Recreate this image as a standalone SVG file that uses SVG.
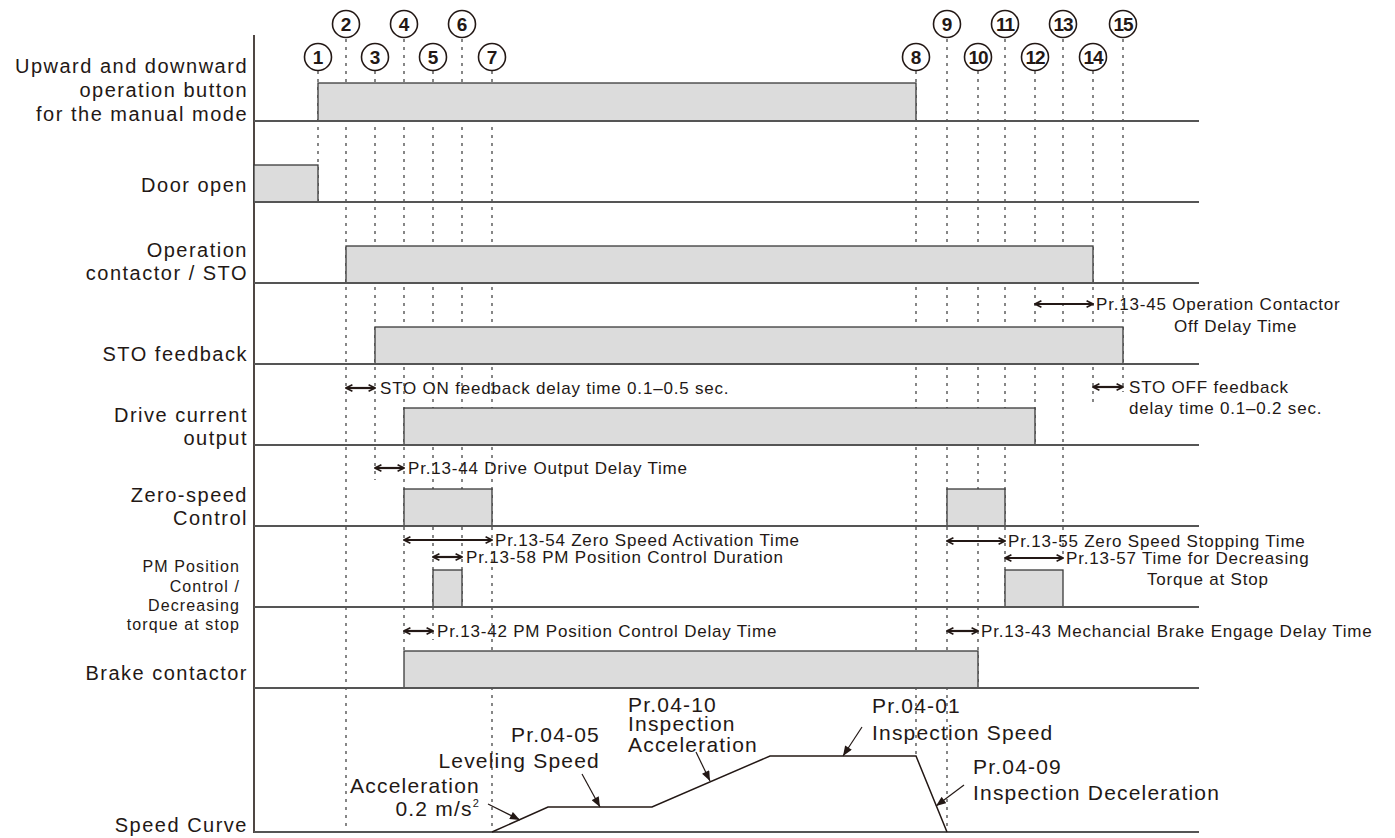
<svg xmlns="http://www.w3.org/2000/svg" width="1395" height="838" viewBox="0 0 1395 838">
<defs>
<style>
.lbl{font-family:"Liberation Sans",Arial,sans-serif;font-size:20px;letter-spacing:1.5px;fill:#231815;text-anchor:end}
.lbls{font-family:"Liberation Sans",Arial,sans-serif;font-size:16px;letter-spacing:1.1px;fill:#231815;text-anchor:end}
.ann{font-family:"Liberation Sans",Arial,sans-serif;font-size:17px;letter-spacing:0.8px;fill:#231815}
.sp{font-family:"Liberation Sans",Arial,sans-serif;font-size:21px;letter-spacing:1.2px;fill:#231815}
.num{font-family:"Liberation Sans",Arial,sans-serif;font-size:19px;font-weight:bold;fill:#231815;text-anchor:middle}
.circ{fill:#fff;stroke:#231815;stroke-width:1.6}
.box{fill:#dcdcdc;stroke:#3a3a3a;stroke-width:1.3}
.base{stroke:#555;stroke-width:1.8;fill:none}
.dot{stroke:#7a7a7a;stroke-width:1.8;stroke-dasharray:3 5;fill:none}
.dbl{stroke:#231815;stroke-width:2.2;fill:none;marker-start:url(#ah);marker-end:url(#ah)}
.lead{stroke:#231815;stroke-width:1.2;fill:none;marker-end:url(#tri)}
.curve{stroke:#231815;stroke-width:1.5;fill:none}
</style>
<marker id="ah" viewBox="0 0 10 10" refX="9" refY="5" markerWidth="8" markerHeight="10" markerUnits="userSpaceOnUse" orient="auto-start-reverse">
<path d="M1,1 L9,5 L1,9" fill="none" stroke="#231815" stroke-width="2"/>
</marker>
<marker id="tri" viewBox="0 0 10 8" refX="10" refY="4" markerWidth="11" markerHeight="8" markerUnits="userSpaceOnUse" orient="auto">
<path d="M0,0 L10,4 L0,8 Z" fill="#231815"/>
</marker>
</defs>
<rect width="1395" height="838" fill="#fff"/>

<!-- event markers -->
<g id="events">
<g id="ev1"><line class="dot" x1="318" y1="71" x2="318" y2="202"/><circle class="circ" cx="318" cy="57" r="13.5"/><text class="num" x="318" y="64">1</text></g>
<g id="ev2"><line class="dot" x1="346" y1="39" x2="346" y2="832"/><circle class="circ" cx="346" cy="24" r="13.5"/><text class="num" x="346" y="31">2</text></g>
<g id="ev3"><line class="dot" x1="375" y1="71" x2="375" y2="480"/><circle class="circ" cx="375" cy="57" r="13.5"/><text class="num" x="375" y="64">3</text></g>
<g id="ev4"><line class="dot" x1="404" y1="39" x2="404" y2="650"/><circle class="circ" cx="404" cy="24" r="13.5"/><text class="num" x="404" y="31">4</text></g>
<g id="ev5"><line class="dot" x1="433" y1="71" x2="433" y2="640"/><circle class="circ" cx="433" cy="57" r="13.5"/><text class="num" x="433" y="64">5</text></g>
<g id="ev6"><line class="dot" x1="462" y1="39" x2="462" y2="607"/><circle class="circ" cx="462" cy="24" r="13.5"/><text class="num" x="462" y="31">6</text></g>
<g id="ev7"><line class="dot" x1="492" y1="71" x2="492" y2="832"/><circle class="circ" cx="492" cy="57" r="13.5"/><text class="num" x="492" y="64">7</text></g>
<g id="ev8"><line class="dot" x1="916" y1="71" x2="916" y2="756"/><circle class="circ" cx="916" cy="57" r="13.5"/><text class="num" x="916" y="64">8</text></g>
<g id="ev9"><line class="dot" x1="947" y1="39" x2="947" y2="832"/><circle class="circ" cx="947" cy="24" r="13.5"/><text class="num" x="947" y="31">9</text></g>
<g id="ev10"><line class="dot" x1="978" y1="71" x2="978" y2="688"/><circle class="circ" cx="978" cy="57" r="13.5"/><text class="num" x="978" y="64" letter-spacing="-1">10</text></g>
<g id="ev11"><line class="dot" x1="1005" y1="39" x2="1005" y2="607"/><circle class="circ" cx="1005" cy="24" r="13.5"/><text class="num" x="1005" y="31" letter-spacing="-1">11</text></g>
<g id="ev12"><line class="dot" x1="1035" y1="71" x2="1035" y2="445"/><circle class="circ" cx="1035" cy="57" r="13.5"/><text class="num" x="1035" y="64" letter-spacing="-1">12</text></g>
<g id="ev13"><line class="dot" x1="1063" y1="39" x2="1063" y2="557"/><circle class="circ" cx="1063" cy="24" r="13.5"/><text class="num" x="1063" y="31" letter-spacing="-1">13</text></g>
<g id="ev14"><line class="dot" x1="1093" y1="71" x2="1093" y2="402"/><circle class="circ" cx="1093" cy="57" r="13.5"/><text class="num" x="1093" y="64" letter-spacing="-1">14</text></g>
<g id="ev15"><line class="dot" x1="1123" y1="39" x2="1123" y2="392"/><circle class="circ" cx="1123" cy="24" r="13.5"/><text class="num" x="1123" y="31" letter-spacing="-1">15</text></g>
</g>

<!-- axis -->
<line x1="254" y1="35" x2="254" y2="833" stroke="#231815" stroke-width="1.6"/>

<g id="row-button">
<rect class="box" x="318" y="83" width="598" height="38"/>
<line class="base" x1="254" y1="121" x2="1199" y2="121"/>
<text class="lbl" x="248" y="73">Upward and downward</text>
<text class="lbl" x="248" y="97">operation button</text>
<text class="lbl" x="248" y="121">for the manual mode</text>
</g>
<g id="row-door">
<rect class="box" x="254" y="165" width="64" height="37"/>
<line class="base" x1="254" y1="202" x2="1199" y2="202"/>
<text class="lbl" x="248" y="192">Door open</text>
</g>
<g id="row-contactor">
<rect class="box" x="346" y="246" width="747" height="37"/>
<line class="base" x1="254" y1="283" x2="1199" y2="283"/>
<text class="lbl" x="248" y="257">Operation</text>
<text class="lbl" x="248" y="280">contactor / STO</text>
</g>
<g id="row-stofb">
<rect class="box" x="375" y="327" width="748" height="37"/>
<line class="base" x1="254" y1="364" x2="1199" y2="364"/>
<text class="lbl" x="248" y="361">STO feedback</text>
</g>
<g id="row-drive">
<rect class="box" x="404" y="408" width="631" height="37"/>
<line class="base" x1="254" y1="445" x2="1199" y2="445"/>
<text class="lbl" x="248" y="422">Drive current</text>
<text class="lbl" x="248" y="445">output</text>
</g>
<g id="row-zero">
<rect class="box" x="404" y="489" width="88" height="37"/>
<rect class="box" x="947" y="489" width="58" height="37"/>
<line class="base" x1="254" y1="526" x2="1199" y2="526"/>
<text class="lbl" x="248" y="502">Zero-speed</text>
<text class="lbl" x="248" y="525">Control</text>
</g>
<g id="row-pm">
<rect class="box" x="433" y="570" width="29" height="37"/>
<rect class="box" x="1005" y="570" width="58" height="37"/>
<line class="base" x1="254" y1="607" x2="1199" y2="607"/>
<text class="lbls" x="240" y="572">PM Position</text>
<text class="lbls" x="240" y="592">Control /</text>
<text class="lbls" x="240" y="611">Decreasing</text>
<text class="lbls" x="240" y="630">torque at stop</text>
</g>
<g id="row-brake">
<rect class="box" x="404" y="651" width="574" height="37"/>
<line class="base" x1="254" y1="688" x2="1199" y2="688"/>
<text class="lbl" x="248" y="680">Brake contactor</text>
</g>
<g id="row-speed">
<line class="base" x1="254" y1="832" x2="1199" y2="832"/>
<polyline class="curve" points="492,832 548,807 652,807 770,756 916,756 947,832"/>
<text class="lbl" x="248" y="832">Speed Curve</text>
<text class="sp" x="600" y="742" text-anchor="end">Pr.04-05</text>
<text class="sp" x="600" y="768" text-anchor="end">Leveling Speed</text>
<text class="sp" x="480" y="793" text-anchor="end">Acceleration</text>
<text class="sp" x="480" y="816" text-anchor="end">0.2 m/s<tspan font-size="11" dy="-9">2</tspan></text>
<text class="sp" x="628" y="712">Pr.04-10</text>
<text class="sp" x="628" y="731">Inspection</text>
<text class="sp" x="628" y="752">Acceleration</text>
<text class="sp" x="872" y="713">Pr.04-01</text>
<text class="sp" x="872" y="740">Inspection Speed</text>
<text class="sp" x="973" y="774">Pr.04-09</text>
<text class="sp" x="973" y="800">Inspection Deceleration</text>
</g>

<!-- connectors / annotations -->
<g id="connectors">
<line class="dbl" x1="346" y1="388" x2="375" y2="388"/>
<text class="ann" x="380" y="394">STO ON feedback delay time 0.1–0.5 sec.</text>
<line class="dbl" x1="375" y1="468" x2="404" y2="468"/>
<text class="ann" x="408" y="474">Pr.13-44 Drive Output Delay Time</text>
<line class="dbl" x1="404" y1="540" x2="492" y2="540"/>
<text class="ann" x="495" y="546">Pr.13-54 Zero Speed Activation Time</text>
<line class="dbl" x1="433" y1="557" x2="462" y2="557"/>
<text class="ann" x="466" y="563">Pr.13-58 PM Position Control Duration</text>
<line class="dbl" x1="404" y1="631" x2="433" y2="631"/>
<text class="ann" x="437" y="637">Pr.13-42 PM Position Control Delay Time</text>
<line class="dbl" x1="1035" y1="304" x2="1093" y2="304"/>
<text class="ann" x="1096" y="310">Pr.13-45 Operation Contactor</text>
<text class="ann" x="1174" y="332">Off Delay Time</text>
<line class="dbl" x1="1093" y1="387" x2="1123" y2="387"/>
<text class="ann" x="1129" y="393">STO OFF feedback</text>
<text class="ann" x="1129" y="414">delay time 0.1–0.2 sec.</text>
<line class="dbl" x1="947" y1="541" x2="1005" y2="541"/>
<text class="ann" x="1008" y="547">Pr.13-55 Zero Speed Stopping Time</text>
<line class="dbl" x1="1005" y1="558" x2="1063" y2="558"/>
<text class="ann" x="1066" y="564">Pr.13-57 Time for Decreasing</text>
<text class="ann" x="1147" y="585">Torque at Stop</text>
<line class="dbl" x1="947" y1="631" x2="978" y2="631"/>
<text class="ann" x="981" y="637">Pr.13-43 Mechancial Brake Engage Delay Time</text>
<line class="lead" x1="488" y1="804" x2="520" y2="820"/>
<line class="lead" x1="582" y1="774" x2="600" y2="807"/>
<line class="lead" x1="696" y1="752" x2="710" y2="781"/>
<line class="lead" x1="862" y1="727" x2="843" y2="756"/>
<line class="lead" x1="964" y1="785" x2="936" y2="806"/>
</g>
</svg>
